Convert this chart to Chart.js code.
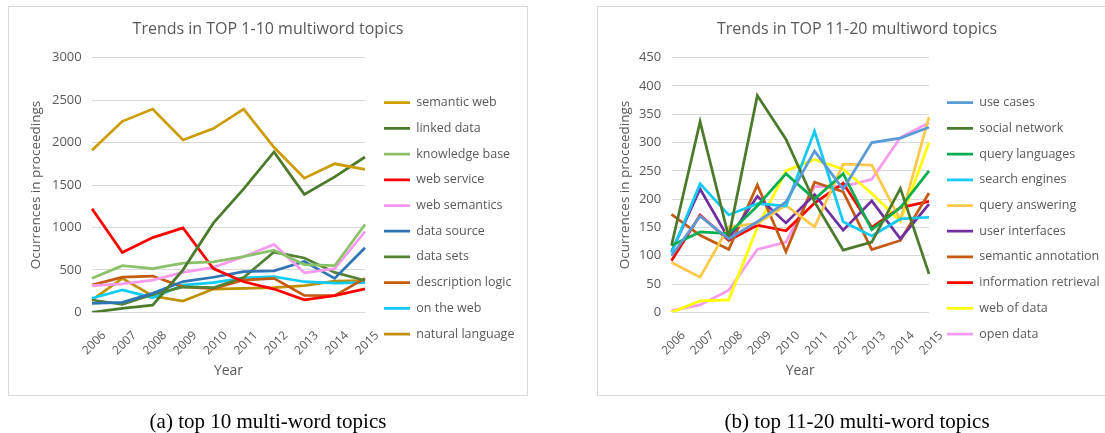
<!DOCTYPE html>
<html>
<head>
<meta charset="utf-8">
<script src="https://cdn.jsdelivr.net/npm/chart.js"></script>
<style>
  html, body { margin: 0; padding: 0; background: #fff; overflow: hidden; }
  body { width: 1105px; height: 433px; position: relative; }
  .box { position: absolute; top: 6px; width: 520px; height: 390px; }
  .box canvas { position: absolute; left: 0; top: 0; }
  .frame { position: absolute; left: 0; top: 0; width: 100%; height: 100%; box-sizing: border-box; border: 1px solid #d9d9d9; pointer-events: none; }
  .cap { position: absolute; top: 409px; width: 520px; text-align: center; font-family: 'Liberation Serif', serif; font-size: 21px; line-height: 25px; color: #000; }
</style>
</head>
<body>
<div class="box" style="left:8px"><canvas id="chartA" width="520" height="390"></canvas><div class="frame"></div></div>
<div class="box" style="left:597px"><canvas id="chartB" width="520" height="390"></canvas><div class="frame"></div></div>
<div class="cap" style="left:8px">(a) top 10 multi-word topics</div>
<div class="cap" style="left:597px">(b) top 11-20 multi-word topics</div>
<script>
const years = ['2006', '2007', '2008', '2009', '2010', '2011', '2012', '2013', '2014', '2015'];

// top 1-10
const topicsA = ['semantic web', 'linked data', 'knowledge base', 'web service', 'web semantics',
  'data source', 'data sets', 'description logic', 'on the web', 'natural language'];
const semanticWeb = [1910, 2250, 2395, 2030, 2165, 2395, 1945, 1580, 1750, 1685];
const linkedData = [0, 45, 85, 500, 1050, 1455, 1890, 1390, 1595, 1830];
const knowledgeBase = [400, 549, 515, 580, 593, 655, 733, 562, 549, 1035];
const webService = [1220, 705, 880, 995, 515, 360, 274, 148, 196, 275];
const webSemantics = [315, 335, 380, 470, 530, 655, 800, 465, 515, 950];
const dataSource = [106, 118, 223, 362, 413, 478, 488, 598, 400, 760];
const dataSets = [145, 95, 210, 300, 290, 410, 710, 640, 470, 375];
const descriptionLogic = [321, 415, 427, 300, 278, 380, 400, 200, 196, 400];
const onTheWeb = [165, 263, 172, 320, 350, 405, 420, 360, 345, 350];
const naturalLanguage = [145, 400, 192, 133, 274, 282, 290, 314, 368, 373];
const colorsA = ['#CC9C00', '#4C7A2C', '#8BC168', '#FF0000', '#F79BEF',
  '#2E75B6', '#548235', '#C55A11', '#0FCBF5', '#BF9000'];

// top 11-20
const topicsB = ['use cases', 'social network', 'query languages', 'search engines', 'query answering',
  'user interfaces', 'semantic annotation', 'information retrieval', 'web of data', 'open data'];
const useCases = [100, 170, 130, 160, 195, 285, 218, 300, 308, 327];
const socialNetwork = [118, 337, 133, 383, 306, 195, 110, 124, 219, 68];
const queryLanguages = [118, 142, 139, 188, 245, 200, 245, 146, 185, 250];
const searchEngines = [105, 227, 172, 192, 188, 320, 160, 135, 165, 168];
const queryAnswering = [88, 62, 151, 157, 189, 151, 262, 260, 163, 345];
const userInterfaces = [107, 218, 130, 205, 158, 208, 145, 197, 130, 191];
const semanticAnnotation = [173, 136, 111, 225, 107, 230, 213, 111, 127, 211];
const informationRetrieval = [91, 172, 127, 154, 144, 193, 228, 150, 185, 196];
const webOfData = [0, 20, 22, 150, 250, 270, 253, 210, 161, 300];
const openData = [3, 13, 39, 111, 124, 222, 222, 235, 309, 335];
const colorsB = ['#5B9BD5', '#4C7A2C', '#00B050', '#17CAF5', '#FFC848',
  '#7030A0', '#C55A11', '#FF0000', '#FFFF00', '#F79BEF'];

Chart.defaults.font.family = "'Open Sans', sans-serif";
Chart.defaults.color = '#595959';

// title centred on the whole box, legend moved next to the plot
const placeBlocks = {
  id: 'placeBlocks',
  afterLayout(chart, args, opts) {
    const t = chart.titleBlock;
    t.left = 0; t.right = chart.width; t.width = chart.width;

    const lg = chart.legend;
    const pad = lg.options.labels.padding;
    const dx = opts.x - pad - lg.left;
    const dy = opts.y - opts.fontSize / 2 - pad - lg.top;
    lg.left += dx; lg.top += dy; lg.bottom += dy;
    lg.right = chart.width; lg.width = lg.right - lg.left;
  }
};

function makeChart(id, title, names, series, colors, yMax, yStep, yWidth, padRight, legendX) {
  const ctx = document.getElementById(id).getContext('2d');
  return new Chart(ctx, {
    type: 'line',
    data: {
      labels: years,
      datasets: names.map((n, i) => ({
        label: n,
        data: series[i],
        borderColor: colors[i],
        backgroundColor: colors[i],
        borderWidth: 2.75,
        pointRadius: 0,
        tension: 0,
        fill: false
      }))
    },
    options: {
      responsive: false,
      animation: false,
      layout: { padding: { left: 0, right: padRight, top: 0, bottom: 0 } },
      plugins: {
        title: {
          display: true,
          text: title,
          color: '#595959',
          font: { size: 16, weight: 'normal' },
          padding: { top: 13.7, bottom: 18.8 }
        },
        legend: {
          position: 'right',
          align: 'start',
          maxWidth: 100,
          labels: {
            usePointStyle: true,
            pointStyle: 'line',
            pointStyleWidth: 26,
            padding: 13.2,
            color: '#595959',
            font: { size: 12.5 }
          }
        },
        placeBlocks: { x: legendX, y: 96.7, fontSize: 12.5 },
        tooltip: { enabled: false }
      },
      scales: {
        x: {
          grid: { display: false },
          border: { display: false },
          ticks: { autoSkip: false, minRotation: 45, maxRotation: 45, labelOffset: 12, padding: 8, color: '#595959', font: { size: 12 } },
          title: { display: true, text: 'Year', color: '#595959', font: { size: 14 }, padding: { top: 0, bottom: 16.9 } },
          afterFit: s => { s.height = 83.7; }
        },
        y: {
          min: 0,
          max: yMax,
          ticks: { stepSize: yStep, padding: 10.3, color: '#595959', font: { size: 13 }, callback: v => String(v) },
          grid: { color: '#D9D9D9', lineWidth: 1, drawTicks: false },
          border: { display: false },
          title: { display: true, text: 'Ocurrences in proceedings', color: '#595959', font: { size: 13.5 }, padding: { top: 19.9, bottom: 0 } },
          afterFit: s => { s.width = yWidth; }
        }
      }
    },
    plugins: [placeBlocks]
  });
}

makeChart('chartA', 'Trends in TOP 1-10 multiword topics', topicsA,
  [semanticWeb, linkedData, knowledgeBase, webService, webSemantics, dataSource, dataSets, descriptionLogic, onTheWeb, naturalLanguage],
  colorsA, 3000, 500, 84, 63, 376);

makeChart('chartB', 'Trends in TOP 11-20 multiword topics', topicsB,
  [useCases, socialNetwork, queryLanguages, searchEngines, queryAnswering, userInterfaces, semanticAnnotation, informationRetrieval, webOfData, openData],
  colorsB, 450, 50, 74.5, 88, 350);
</script>
</body>
</html>
